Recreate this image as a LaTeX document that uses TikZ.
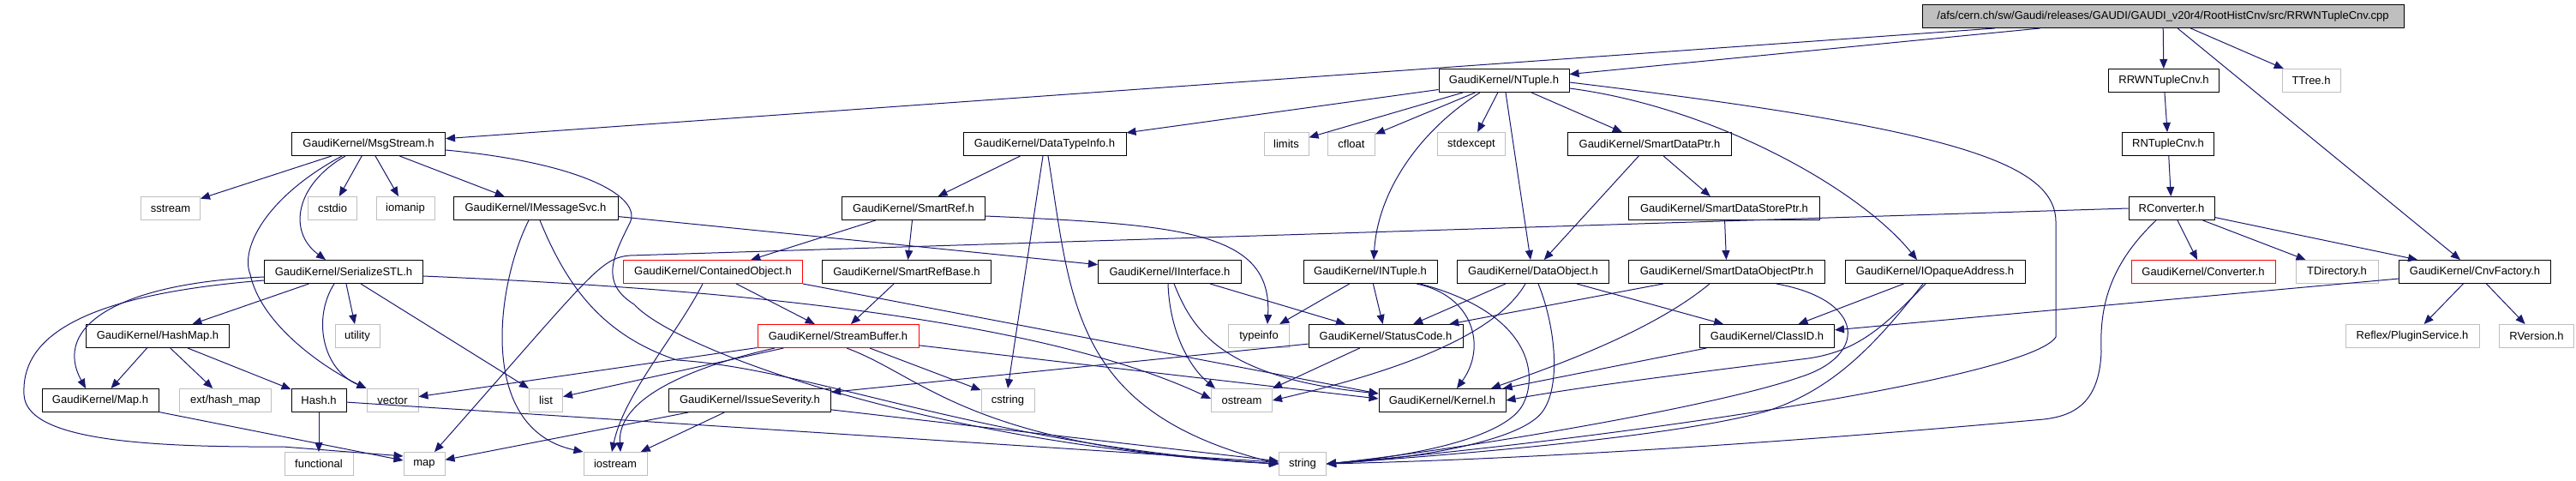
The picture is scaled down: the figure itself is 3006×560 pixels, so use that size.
\documentclass[tikz,border=0pt]{standalone}
\usepackage{fontspec}
\setmainfont{Liberation Sans}
\usetikzlibrary{arrows.meta, math}
\definecolor{edgeblue}{RGB}{25,25,112}
\definecolor{sysgray}{RGB}{191,191,191}

\begin{document}
\begin{tikzpicture}[x=1pt, y=-1pt,
  hdr/.style={draw=black, fill=white, line width=1pt, inner sep=0pt, minimum height=27pt, minimum width=#1pt, font=\fontsize{13pt}{15pt}\selectfont},
  sys/.style={hdr=#1, draw=sysgray},
  cut/.style={hdr=#1, draw=red},
  dep/.style={draw=edgeblue, line width=1pt, -{Triangle[length=11pt,width=9pt]}}]
\tikzmath{
\ya=19; \yb=94; \yc=168; \yd=243;
\ye=317; \yf=392; \yg=467; \yh=541;
}
\useasboundingbox (0,0) rectangle (3006,560);

%source file and first includes
\node[hdr=562, fill=sysgray] (root) at (2524,\ya) {/afs/cern.ch/sw/Gaudi/releases/GAUDI/GAUDI\_v20r4/RootHistCnv/src/RRWNTupleCnv.cpp};
\node[hdr=152] (ntuple) at (1755,\yb) {GaudiKernel/NTuple.h};
\node[hdr=129] (rrwcnv) at (2525,\yb) {RRWNTupleCnv.h};
\node[sys=68] (ttree) at (2697,\yb) {TTree.h};

%row 2
\node[hdr=179] (msgstream) at (430,\yc) {GaudiKernel/MsgStream.h};
\node[hdr=190] (datatypeinfo) at (1219,\yc) {GaudiKernel/DataTypeInfo.h};
\node[sys=52] (limits) at (1501,\yc) {limits};
\node[sys=55] (cfloat) at (1577,\yc) {cfloat};
\node[sys=79] (stdexcept) at (1717,\yc) {stdexcept};
\node[hdr=191] (smartdataptr) at (1925,\yc) {GaudiKernel/SmartDataPtr.h};
\node[hdr=107] (rntuplecnv) at (2530,\yc) {RNTupleCnv.h};

%row 3
\node[sys=69] (sstream) at (199,\yd) {sstream};
\node[sys=57] (cstdio) at (388,\yd) {cstdio};
\node[sys=68] (iomanip) at (473,\yd) {iomanip};
\node[hdr=192] (imessagesvc) at (625,\yd) {GaudiKernel/IMessageSvc.h};
\node[hdr=167] (smartref) at (1066,\yd) {GaudiKernel/SmartRef.h};
\node[hdr=223] (smartdatastoreptr) at (2012,\yd) {GaudiKernel/SmartDataStorePtr.h};
\node[hdr=100] (rconverter) at (2534,\yd) {RConverter.h};

%row 4
\node[hdr=185] (serializestl) at (401,\ye) {GaudiKernel/SerializeSTL.h};
\node[cut=209] (containedobject) at (832,\ye) {GaudiKernel/ContainedObject.h};
\node[hdr=197] (smartrefbase) at (1058,\ye) {GaudiKernel/SmartRefBase.h};
\node[hdr=167] (iinterface) at (1365,\ye) {GaudiKernel/IInterface.h};
\node[hdr=156] (intuple) at (1599,\ye) {GaudiKernel/INTuple.h};
\node[hdr=177] (dataobject) at (1789,\ye) {GaudiKernel/DataObject.h};
\node[hdr=229] (smartdataobjectptr) at (2015,\ye) {GaudiKernel/SmartDataObjectPtr.h};
\node[hdr=210] (iopaqueaddress) at (2258,\ye) {GaudiKernel/IOpaqueAddress.h};
\node[cut=168] (converter) at (2571,\ye) {GaudiKernel/Converter.h};
\node[sys=96] (tdirectory) at (2727,\ye) {TDirectory.h};
\node[hdr=177] (cnvfactory) at (2888,\ye) {GaudiKernel/CnvFactory.h};

%row 5
\node[hdr=167] (hashmap) at (184,\yf) {GaudiKernel/HashMap.h};
\node[sys=52] (utility) at (417,\yf) {utility};
\node[cut=188] (streambuffer) at (978,\yf) {GaudiKernel/StreamBuffer.h};
\node[sys=71] (typeinfo) at (1469,\yf) {typeinfo};
\node[hdr=180] (statuscode) at (1617,\yf) {GaudiKernel/StatusCode.h};
\node[hdr=157] (classid) at (2062,\yf) {GaudiKernel/ClassID.h};
\node[sys=156] (pluginservice) at (2815,\yf) {Reflex/PluginService.h};
\node[sys=87] (rversion) at (2960,\yf) {RVersion.h};

%row 6
\node[hdr=136] (mapgk) at (117,\yg) {GaudiKernel/Map.h};
\node[sys=107] (exthashmap) at (263,\yg) {ext/hash\_map};
\node[hdr=64] (hash) at (372,\yg) {Hash.h};
\node[sys=60] (vector) at (458,\yg) {vector};
\node[sys=39] (list) at (637,\yg) {list};
\node[hdr=189] (issueseverity) at (875,\yg) {GaudiKernel/IssueSeverity.h};
\node[sys=62] (cstring) at (1176,\yg) {cstring};
\node[sys=71] (ostream) at (1449,\yg) {ostream};
\node[hdr=148] (kernel) at (1683,\yg) {GaudiKernel/Kernel.h};

%row 7
\node[sys=80] (functional) at (372,\yh) {functional};
\node[sys=48] (map) at (495,\yh) {map};
\node[sys=74] (iostream) at (718,\yh) {iostream};
\node[sys=55] (string) at (1520,\yh) {string};


%source file
\draw[dep] (root) -- (ntuple);
\draw[dep] (root) -- (msgstream);
\draw[dep] (root) -- (rrwcnv);
\draw[dep] (root) -- (ttree);
\draw[dep] (root) -- (cnvfactory);

%converter chain
\draw[dep] (rrwcnv) -- (rntuplecnv);
\draw[dep] (rntuplecnv) -- (rconverter);
\draw[dep] (rconverter) -- (converter);
\draw[dep] (rconverter) -- (tdirectory);
\draw[dep] (rconverter) -- (cnvfactory);
\draw[dep] ([xshift=-18pt]rconverter.south) .. controls (2460,310) and (2450,360) .. (2452,410) .. controls (2450,470) and (2420,485) .. (2385,489) .. controls (2100,515) and (1800,535) .. (string.east);
\draw[dep] (rconverter.west) -- (735,298) .. controls (700,301) and (690,320) .. ([xshift=12pt]map.north);
\draw[dep] (cnvfactory) -- (pluginservice);
\draw[dep] (cnvfactory) -- (rversion);
\draw[dep] (cnvfactory) -- (classid);

%NTuple
\draw[dep] (ntuple) -- (datatypeinfo);
\draw[dep] (ntuple) -- (limits);
\draw[dep] (ntuple) -- (cfloat);
\draw[dep] (ntuple) -- (stdexcept);
\draw[dep] (ntuple) -- (smartdataptr);
\draw[dep] ([xshift=-28pt]ntuple.south) .. controls (1660,150) and (1608,220) .. ([xshift=4pt]intuple.north);
\draw[dep] ([xshift=2pt]ntuple.south) -- ([xshift=-3pt]dataobject.north);
\draw[dep] ([yshift=-9pt]ntuple.east) .. controls (2000,125) and (2170,220) .. ([xshift=-21pt]iopaqueaddress.north);
\draw[dep] ([yshift=-2pt]ntuple.east) .. controls (2280,150) and (2400,190) .. (2399,260) -- (2399,393) .. controls (2370,440) and (1900,510) .. (string.east);

%MsgStream
\draw[dep] (msgstream) -- (sstream);
\draw[dep] (msgstream) -- (cstdio);
\draw[dep] (msgstream) -- (iomanip);
\draw[dep] (msgstream) -- (imessagesvc);
\draw[dep] ([xshift=-27pt]msgstream.south) .. controls (345,215) and (335,270) .. ([xshift=-21pt]serializestl.north);
\draw[dep] ([xshift=-31pt]msgstream.south) .. controls (310,230) and (280,290) .. (292,320) .. controls (305,380) and (380,430) .. (vector.north west);
\draw[dep] ([yshift=-7pt]msgstream.east) .. controls (680,190) and (750,230) .. (735,260) .. controls (715,300) and (700,330) .. (740,355) .. controls (790,410) and (1100,520) .. (string.west);

%IMessageSvc
\draw[dep] (imessagesvc) -- (iinterface);
\draw[dep] ([xshift=-8pt]imessagesvc.south) .. controls (580,330) and (555,500) .. (iostream.north west);
\draw[dep] ([xshift=5pt]imessagesvc.south) .. controls (660,330) and (700,390) .. (790,420) .. controls (950,430) and (1150,520) .. (string.west);

%SerializeSTL
\draw[dep] (serializestl) -- (hashmap);
\draw[dep] ([yshift=-6pt]serializestl.west) .. controls (140,330) and (60,380) .. ([xshift=-17pt]mapgk.north);
\draw[dep] ([yshift=-10pt]serializestl.west) .. controls (80,345) and (25,400) .. (28,460) .. controls (30,510) and (150,522) .. (330,521) -- ([yshift=9pt]map.west);
\draw[dep] (serializestl) -- (utility);
\draw[dep] ([xshift=-11pt]serializestl.south) .. controls (365,370) and (375,430) .. (vector.north west);
\draw[dep] ([xshift=20pt]serializestl.south) -- (list.north west);
\draw[dep] ([yshift=-5pt]serializestl.east) .. controls (800,335) and (1200,365) .. ([yshift=2pt]ostream.west);

%HashMap
\draw[dep] (hashmap) -- (mapgk);
\draw[dep] (hashmap) -- (exthashmap);
\draw[dep] (hashmap) -- (hash);
\draw[dep] (hash) -- (functional);
\draw[dep] (hash) -- (string);
\draw[dep] (mapgk) -- ([yshift=4pt]map.west);

%DataTypeInfo and SmartRef
\draw[dep] (datatypeinfo) -- (smartref);
\draw[dep] ([xshift=-2pt]datatypeinfo.south) -- (cstring.north);
\draw[dep] ([xshift=4pt]datatypeinfo.south) .. controls (1250,350) and (1250,480) .. (string.west);
\draw[dep] (smartref) -- (containedobject);
\draw[dep] (smartref) -- (smartrefbase);
\draw[dep] ([yshift=-9pt]smartref.east) .. controls (1380,262) and (1485,270) .. ([xshift=10pt]typeinfo.north);

%ContainedObject and StreamBuffer
\draw[dep] (containedobject) -- (streambuffer);
\draw[dep] ([xshift=-12pt]containedobject.south) .. controls (790,390) and (728,460) .. ([xshift=-4pt]iostream.north);
\draw[dep] (containedobject.south east) -- ([yshift=8pt]kernel.west);
\draw[dep] (smartrefbase) -- (streambuffer);
\draw[dep] (streambuffer) -- (vector);
\draw[dep] (streambuffer) -- (list);
\draw[dep] ([xshift=-74pt]streambuffer.south) .. controls (820,425) and (720,460) .. ([xshift=6pt]iostream.north);
\draw[dep] (streambuffer) -- (cstring);
\draw[dep] ([xshift=10pt]streambuffer.south) .. controls (1080,440) and (1130,522) .. (string.west);
\draw[dep] (streambuffer) -- ([yshift=2pt]kernel.west);

%IInterface and INTuple
\draw[dep] ([xshift=-2pt]iinterface.south) .. controls (1365,390) and (1390,430) .. ([xshift=-31pt]ostream.north);
\draw[dep] ([xshift=5pt]iinterface.south) .. controls (1390,380) and (1420,440) .. ([yshift=8pt]kernel.west);
\draw[dep] (iinterface) -- (statuscode);
\draw[dep] (intuple) -- (typeinfo);
\draw[dep] (intuple) -- (statuscode);
\draw[dep] ([xshift=54pt]intuple.south) .. controls (1720,345) and (1735,405) .. ([xshift=17pt]kernel.north);
\draw[dep] ([xshift=58pt]intuple.south) .. controls (1785,365) and (1795,435) .. (1778,470) .. controls (1760,510) and (1650,532) .. (string.east);

%DataObject
\draw[dep] (dataobject) -- (statuscode);
\draw[dep] ([xshift=-9pt]dataobject.south) .. controls (1740,400) and (1600,440) .. (ostream.east);
\draw[dep] ([xshift=6pt]dataobject.south) .. controls (1815,380) and (1822,450) .. (1800,480) .. controls (1775,515) and (1650,535) .. (string.east);
\draw[dep] (dataobject) -- (classid);

%smart pointers
\draw[dep] (smartdataptr) -- (smartdatastoreptr);
\draw[dep] (smartdataptr) -- (dataobject);
\draw[dep] (smartdatastoreptr) -- (smartdataobjectptr);
\draw[dep] (smartdataobjectptr) -- (statuscode);
\draw[dep] ([xshift=-20pt]smartdataobjectptr.south) .. controls (1930,385) and (1820,425) .. ([xshift=57pt]kernel.north);
\draw[dep] ([xshift=58pt]smartdataobjectptr.south) .. controls (2178,350) and (2180,415) .. (2100,440) .. controls (2000,475) and (1700,525) .. (string.east);

%IOpaqueAddress
\draw[dep] (iopaqueaddress) -- (classid);
\draw[dep] ([xshift=-11pt]iopaqueaddress.south) .. controls (2195,385) and (2165,410) .. (2110,418) .. controls (2000,432) and (1850,450) .. (kernel.east);
\draw[dep] ([xshift=-14pt]iopaqueaddress.south) .. controls (2190,400) and (2140,455) .. (2060,480) .. controls (1950,510) and (1700,530) .. (string.east);

%bottom rows
\draw[dep] (classid) -- (kernel);
\draw[dep] (statuscode) -- (issueseverity);
\draw[dep] (statuscode) -- (ostream.north east);
\draw[dep] (issueseverity) -- (map);
\draw[dep] (issueseverity) -- (iostream);
\draw[dep] (issueseverity) -- (string);
\end{tikzpicture}
\end{document}
